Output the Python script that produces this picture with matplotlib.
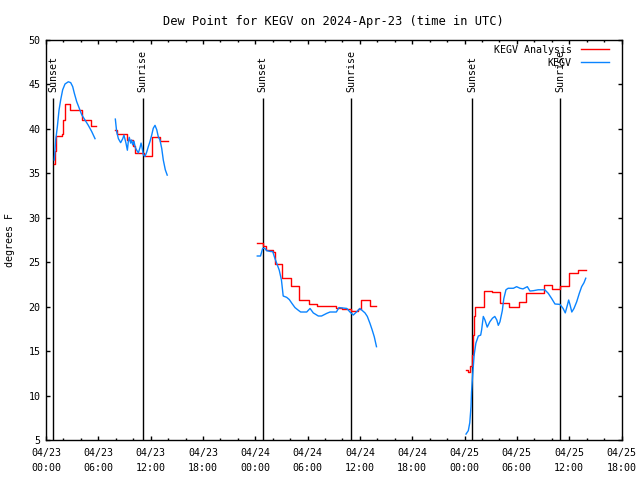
import numpy as np
import pandas as pd
import matplotlib
matplotlib.use("Agg")
from matplotlib import pyplot as plt
import matplotlib.dates as mdates

start = pd.Timestamp("2024-04-23 00:00")

# KEGV observations (hours after 04/23 00:00 UTC, deg F), one list per run
obsHours1 = [0.95, 1.11, 1.3, 1.49, 1.68, 1.91, 2.18, 2.56, 2.83, 3.06, 3.25, 3.52, 3.82, 4.09, 4.47, 4.85, 5.24, 5.62]
obsDew1 = [36.5, 38.75, 40.25, 42.1, 43.25, 44.4, 45.05, 45.3, 45.2, 44.75, 44.0, 43.06, 42.3, 41.6, 41.0, 40.4, 39.7, 38.9]
obsHours2 = [7.95, 8.1, 8.3, 8.56, 8.8, 8.94, 9.17, 9.33, 9.44, 9.55, 9.71, 9.82, 9.94, 10.09, 10.24, 10.4, 10.59, 10.78,
             10.9, 11.0, 11.16, 11.35, 11.55, 11.73, 11.93, 12.12, 12.3, 12.5, 12.7, 12.88, 13.07, 13.27, 13.45, 13.68, 13.9]
obsDew2 = [41.1, 39.7, 38.9, 38.45, 38.9, 39.3, 38.4, 37.6, 38.6, 39.05, 38.4, 38.75, 38.2, 38.6, 37.9, 37.6, 37.3, 37.9,
           38.4, 38.0, 37.1, 36.9, 37.4, 38.0, 38.6, 39.3, 40.07, 40.4, 39.9, 39.1, 38.75, 37.8, 36.5, 35.4, 34.8]
obsHours3 = [24.23, 24.6, 24.85, 25.1, 25.3, 25.77, 26.0, 26.26, 26.45, 26.75, 27.0, 27.2, 27.6, 27.9, 28.18, 28.55, 28.93,
             29.2, 29.5, 29.9, 30.28, 30.65, 31.23, 31.6, 32.2, 32.57, 33.3, 33.6, 34.5, 34.86, 35.24, 35.6, 36.0, 36.58,
             36.85, 37.16, 37.4, 37.65, 37.9]
obsDew3 = [25.7, 25.7, 26.56, 26.56, 26.3, 26.2, 26.2, 25.4, 24.9, 24.1, 23.0, 21.2, 21.05, 20.8, 20.4, 19.9, 19.6,
           19.4, 19.4, 19.4, 19.8, 19.3, 18.95, 18.95, 19.25, 19.4, 19.4, 19.9, 19.8, 19.4, 19.06, 19.4, 19.8, 19.3,
           18.9, 18.1, 17.4, 16.6, 15.5]
obsHours4 = [48.17, 48.43, 48.6, 48.74, 48.8, 48.9, 49.0, 49.1, 49.3, 49.58, 49.85, 49.96, 50.15, 50.34, 50.6, 50.9,
             51.2, 51.47, 51.7, 51.87, 52.06, 52.33, 52.5, 52.75, 53.0, 53.6, 53.97, 54.36, 54.7, 55.2, 55.5, 55.9,
             56.45, 57.2, 57.6, 58.0, 58.37, 58.94, 59.3, 59.55, 59.8, 59.94, 60.1, 60.3, 60.55, 60.86, 61.16, 61.43,
             61.7, 61.9]
obsDew4 = [5.67, 6.05, 6.95, 8.75, 10.4, 11.9, 13.25, 14.56, 15.9, 16.7, 16.8, 17.4, 18.9, 18.5, 17.7, 18.3,
           18.7, 18.9, 18.5, 17.9, 18.3, 19.55, 20.9, 21.9, 22.07, 22.07, 22.25, 22.07, 22.0, 22.25, 21.76, 21.8,
           21.9, 21.9, 21.5, 20.9, 20.3, 20.26, 19.8, 19.3, 20.2, 20.75, 20.2, 19.4, 19.8, 20.55, 21.5, 22.25,
           22.7, 23.2]

# KEGV analysis (step values)
anaHours1 = [0.95, 1.0, 1.1, 1.85, 2.0, 2.15, 2.7, 4.15, 5.0, 5.2, 5.7]
anaDew1 = [36.1, 37.5, 39.2, 39.4, 41.0, 42.8, 42.1, 41.0, 41.0, 40.3, 40.3]
anaHours2 = [7.95, 8.1, 9.33, 9.94, 10.2, 11.2, 12.1, 13.07, 13.95]
anaDew2 = [39.9, 39.4, 38.75, 38.1, 37.3, 37.0, 39.1, 38.6, 38.6]
anaHours3 = [24.23, 24.9, 25.2, 26.0, 26.26, 27.05, 28.1, 29.05, 30.2, 31.1, 33.2, 34.0, 35.0, 35.8, 36.1, 37.1, 37.9]
anaDew3 = [27.2, 26.8, 26.4, 26.2, 24.8, 23.2, 22.3, 20.7, 20.3, 20.1, 19.9, 19.7, 19.5, 19.7, 20.7, 20.1, 20.1]
anaHours4 = [48.17, 48.43, 48.6, 48.8, 48.95, 49.05, 49.15, 50.2, 51.1, 52.1, 53.1, 54.2, 55.1, 57.1, 58.0, 59.0,
             60.0, 61.0, 61.9]
anaDew4 = [12.9, 12.7, 13.3, 14.6, 16.8, 18.9, 20.0, 21.8, 21.6, 20.45, 20.0, 20.55, 21.5, 22.4, 22.0, 22.3,
           23.8, 24.1, 24.1]

sunHours = [0.84, 11.07, 24.85, 35.02, 48.88, 58.99]
sunLabels = ["Sunset", "Sunrise", "Sunset", "Sunrise", "Sunset", "Sunrise"]


def toTime(hours):
    return start + pd.to_timedelta(np.array(hours), unit="h")


def main():
    plt.rcParams['font.family'] = ['DejaVu Sans Mono']
    plt.rcParams['font.size'] = 7.2
    fig = plt.figure(figsize=(6.4, 4.8), dpi=100)
    ax = fig.add_axes([0.0719, 0.0833, 0.8992, 0.8334])

    obs = [(obsHours1, obsDew1), (obsHours2, obsDew2), (obsHours3, obsDew3), (obsHours4, obsDew4)]
    ana = [(anaHours1, anaDew1), (anaHours2, anaDew2), (anaHours3, anaDew3), (anaHours4, anaDew4)]

    for i, (h, d) in enumerate(ana):
        ax.plot(toTime(h), d, color='#ff0000', lw=1.0, drawstyle='steps-post',
                label='KEGV Analysis' if i == 0 else None, zorder=3)
    for i, (h, d) in enumerate(obs):
        ax.plot(toTime(h), d, color='#0a84ff', lw=1.0,
                label='KEGV' if i == 0 else None, zorder=4)

    for h, lab in zip(sunHours, sunLabels):
        t = toTime([h])[0]
        ax.vlines(t, 5, 43.5, color='black', lw=1.0, zorder=2)
        ax.text(t, 44.1, lab, rotation=90, ha='center', va='bottom')

    ax.set_xlim(start, start + pd.Timedelta(hours=66))
    ax.set_ylim(5, 50)
    ax.set_yticks(np.arange(5, 51, 5))
    ax.xaxis.set_major_locator(mdates.HourLocator(byhour=[0, 6, 12, 18]))
    ax.xaxis.set_minor_locator(mdates.HourLocator(interval=2))
    ax.xaxis.set_major_formatter(mdates.DateFormatter("%m/%d\n%H:%M"))
    ax.tick_params(which='both', direction='in', top=True, right=True, width=1.0)
    ax.tick_params(which='major', length=3.2, pad=4)
    ax.tick_params(axis='x', which='major', pad=6)
    ax.tick_params(which='minor', length=1.7)
    for s in ax.spines.values():
        s.set_linewidth(1.0)

    ax.set_title("Dew Point for KEGV on 2024-Apr-23 (time in UTC)", pad=11)
    ax.set_ylabel("degrees F", labelpad=10)

    ax.legend(loc='upper right', bbox_to_anchor=(0.983, 0.995), frameon=False, markerfirst=False,
              handlelength=2.8, handletextpad=0.9, labelspacing=0.3, borderaxespad=0.1, borderpad=0.2)

    fig.canvas.draw()
    for lab in ax.get_xticklabels():
        lab.set_linespacing(1.6)

    fig.savefig("out.png", dpi=100)


if __name__ == "__main__": main()
